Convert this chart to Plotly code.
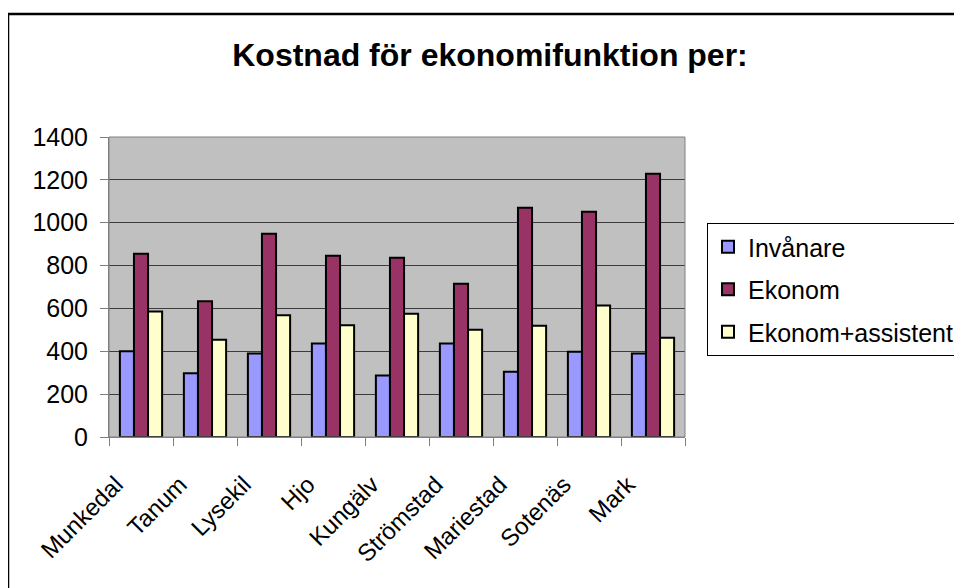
import plotly.graph_objects as go

# Excel-like palette
COLORS = {
    'invanare': '#9999FF',
    'ekonom': '#993366',
    'assistent': '#FFFFCC',
    'plot_bg': '#C0C0C0',
    'grid': '#3c3c3c',
    'axis': '#808080',
    'text': '#000000',
}
FONT = "Arial, 'Liberation Sans', sans-serif"

kommuner = ["Munkedal", "Tanum", "Lysekil", "Hjo", "Kungälv",
            "Strömstad", "Mariestad", "Sotenäs", "Mark"]
invanare = [400, 297, 390, 436, 287, 436, 305, 398, 390]
ekonom = [855, 633, 949, 846, 837, 715, 1070, 1051, 1229]
ekonom_assistent = [586, 454, 568, 521, 575, 501, 519, 614, 463]
y_ticks = [0, 200, 400, 600, 800, 1000, 1200, 1400]

# page body adds an 8px offset, so the figure is laid out 8px up/left
OFF = 8
W, H = 962, 588
# plot area in screen pixels: x 109..685, y 137..437
L, R, T, B = 109 - OFF, 685 - OFF, 137 - OFF, 437 - OFF


def px_x(x):
    return (x - OFF - L) / (R - L)


def px_y(y):
    return (B - (y - OFF)) / (B - T)


fig = go.Figure()
series = [
    ("Invånare", invanare, COLORS['invanare']),
    ("Ekonom", ekonom, COLORS['ekonom']),
    ("Ekonom+assistent", ekonom_assistent, COLORS['assistent']),
]
for name, vals, col in series:
    fig.add_trace(go.Bar(
        x=kommuner, y=vals, name=name, legendgroup=name,
        marker=dict(color=col, line=dict(color='black', width=2)),
    ))

fig.update_layout(
    width=W, height=H,
    barmode='group', bargap=0.34, bargroupgap=0,
    plot_bgcolor=COLORS['plot_bg'], paper_bgcolor='white',
    font=dict(family=FONT, color=COLORS['text'], size=24),
    margin=dict(l=L, r=W - R, t=T, b=H - B, autoexpand=False),
    title=dict(text="<b>Kostnad för ekonomifunktion per:</b>",
               font=dict(size=32, family=FONT),
               x=(490 - OFF) / W, xanchor='center', xref='container',
               y=1 - (55 - OFF) / H, yanchor='middle', yref='container'),
    xaxis=dict(showgrid=False, tickangle=-45, tickson='boundaries',
               ticks='outside', ticklen=8, tickcolor=COLORS['axis'],
               showline=True, linecolor=COLORS['axis'], linewidth=1,
               ticklabelshift=-25, ticklabelstandoff=23,
               tickfont=dict(size=24)),
    yaxis=dict(range=[0, 1400], tickvals=y_ticks, showgrid=True,
               gridcolor=COLORS['grid'], gridwidth=1,
               ticks='outside', ticklen=8, tickcolor=COLORS['axis'],
               showline=True, linecolor=COLORS['axis'], linewidth=1,
               ticklabelstandoff=7, zeroline=False,
               tickfont=dict(size=25)),
    legend=dict(x=px_x(707), y=px_y(223), xanchor='left', yanchor='top',
                bgcolor='white', bordercolor='black', borderwidth=1,
                font=dict(size=25, family=FONT),
                traceorder='grouped', tracegroupgap=7),
    shapes=[
        # plot area border
        dict(type='rect', xref='paper', yref='paper', x0=0, x1=1, y0=0, y1=1,
             line=dict(color=COLORS['axis'], width=1), layer='above'),
        # chart frame (continues past the right and bottom edges)
        dict(type='rect', xref='paper', yref='paper',
             x0=px_x(8), x1=px_x(1000), y0=px_y(640), y1=px_y(14),
             line=dict(color='black', width=2.5), layer='below'),
    ],
)

fig.write_html("out.html")
